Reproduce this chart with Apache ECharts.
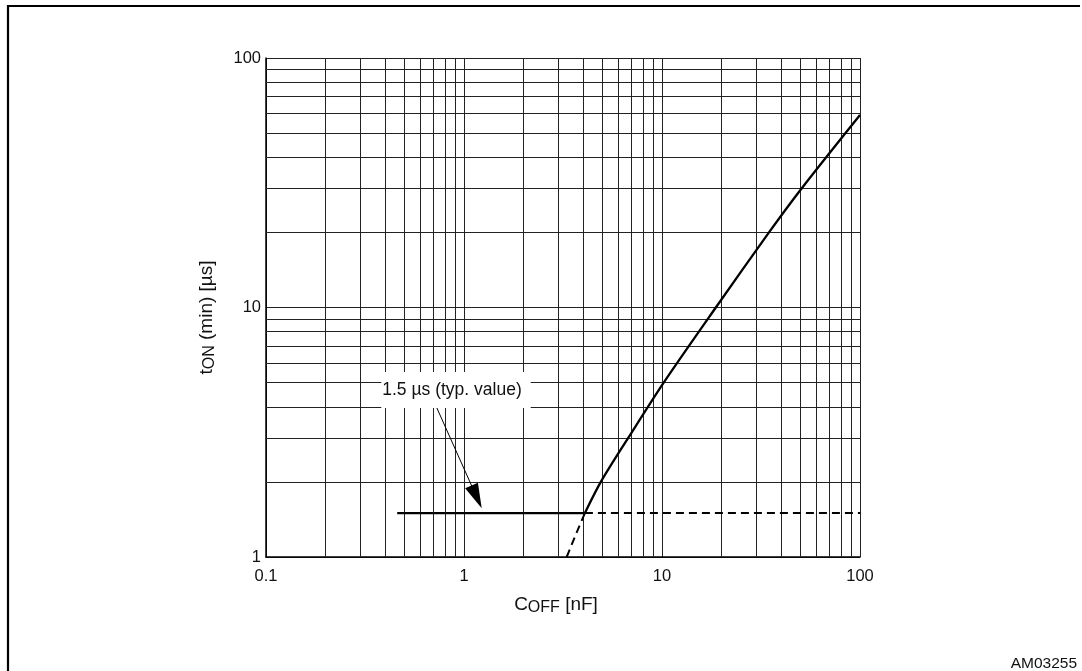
<!DOCTYPE html>
<html><head><meta charset="utf-8">
<script src="https://cdn.jsdelivr.net/npm/echarts@6/dist/echarts.min.js"></script>
<style>html,body{margin:0;padding:0;background:#fff}#c{width:1082px;height:671px}</style>
</head><body><div id="c"></div>
<script>
// ---- data ----
const xTickLabels = ['0.1', '1', '10', '100'];
const yTickLabels = ['1', '10', '100'];
const xMinor = [0.2,0.3,0.4,0.5,0.6,0.7,0.8,0.9, 2,3,4,5,6,7,8,9, 20,30,40,50,60,70,80,90];
const yMinor = [2,3,4,5,6,7,8,9, 20,30,40,50,60,70,80,90];

const flatC = [0.46, 4.08];
const flatT = [1.5, 1.5];
const riseC = [4.08, 4.91, 6.75, 10.2, 18.7, 34.7, 50.7, 100];
const riseT = [1.5, 2, 3, 5, 10, 20, 30, 59.1];
const flatDashC = [4.08, 100];
const flatDashT = [1.5, 1.5];
const riseDashC = [3.3, 3.7, 4.08];
const riseDashT = [1.0, 1.25, 1.5];

const noteText = '1.5 µs (typ. value)';
const noteAt = [0.911, 4.67];
const arrowFrom = [0.715, 4.1];
const arrowTo = [1.158, 1.741];
const figId = 'AM03255';

const pairs = (a, b) => a.map((v, i) => [v, b[i]]);
const FONT = 'Liberation Sans, Arial, Helvetica, sans-serif';

const chart = echarts.init(document.getElementById('c'), null, {renderer: 'canvas'});
const gridColor = '#222';

chart.setOption({
  animation: false,
  backgroundColor: '#fff',
  grid: {left: 266, right: 222, top: 58, bottom: 114, containLabel: false},
  xAxis: {
    type: 'log', logBase: 10, min: 0.1, max: 100, interval: 1,
    axisLine: {onZero: false, lineStyle: {color: '#000', width: 1.5}},
    axisTick: {show: false},
    splitLine: {show: true, lineStyle: {color: gridColor, width: 1}},
    axisLabel: {
      margin: 11, color: '#111', fontSize: 16.5, fontFamily: FONT,
      formatter: v => xTickLabels[Math.round(Math.log10(v)) + 1]
    },
    name: '{m|C}{s|OFF}{m| [nF]}',
    nameLocation: 'middle', nameGap: 37,
    nameTextStyle: {
      padding: [0, 14, 0, 0],
      rich: {
        m: {fontSize: 19, lineHeight: 22, fontFamily: FONT, color: '#111'},
        s: {fontSize: 16, lineHeight: 16, verticalAlign: 'bottom', fontFamily: FONT, color: '#111'}
      }
    }
  },
  yAxis: {
    type: 'log', logBase: 10, min: 1, max: 100, interval: 1,
    axisLine: {onZero: false, lineStyle: {color: '#000', width: 1.5}},
    axisTick: {show: false},
    splitLine: {show: true, lineStyle: {color: gridColor, width: 1}},
    axisLabel: {
      margin: 5, color: '#111', fontSize: 16.5, fontFamily: FONT,
      formatter: v => yTickLabels[Math.round(Math.log10(v))]
    },
    name: '{m|t}{s|ON}{m| (min) [µs]}',
    nameLocation: 'middle', nameGap: 48,
    nameTextStyle: {
      padding: [0, 20, 0, 0],
      rich: {
        m: {fontSize: 19, lineHeight: 22, fontFamily: FONT, color: '#111'},
        s: {fontSize: 16, lineHeight: 16, verticalAlign: 'bottom', fontFamily: FONT, color: '#111'}
      }
    }
  },
  series: [
    {
      name: 'minorGrid', type: 'line', data: [], z: 1, silent: true,
      markLine: {
        silent: true, symbol: 'none', animation: false,
        label: {show: false},
        lineStyle: {color: gridColor, width: 1, type: 'solid'},
        emphasis: {disabled: true},
        data: xMinor.map(v => ({xAxis: v})).concat(yMinor.map(v => ({yAxis: v})))
      }
    },
    {
      name: 'note', type: 'line', data: [], z: 4, silent: true,
      markPoint: {
        symbol: 'rect', symbolSize: 0, silent: true,
        label: {
          show: true, position: 'inside', formatter: noteText,
          fontSize: 17.5, fontFamily: FONT, color: '#111',
          backgroundColor: '#fff', padding: [9, 9, 9, 1], lineHeight: 18
        },
        data: [{coord: noteAt}]
      },
      markLine: {
        silent: true, symbol: ['none', 'triangle'], symbolSize: [14, 25],
        label: {show: false},
        lineStyle: {color: '#000', width: 1, type: 'solid'},
        itemStyle: {color: '#000'},
        data: [[{coord: arrowFrom}, {coord: arrowTo}]]
      }
    },
    {
      name: 'flat', type: 'line', data: pairs(flatC, flatT), z: 5,
      symbol: 'none', lineStyle: {color: '#000', width: 2.3}
    },
    {
      name: 'rise', type: 'line', data: pairs(riseC, riseT), z: 5, smooth: 0.3,
      symbol: 'none', lineStyle: {color: '#000', width: 2.3}
    },
    {
      name: 'flatDash', type: 'line', data: pairs(flatDashC, flatDashT), z: 5,
      symbol: 'none', lineStyle: {color: '#000', width: 2, type: [8, 5]}
    },
    {
      name: 'riseDash', type: 'line', data: pairs(riseDashC, riseDashT), z: 5,
      symbol: 'none', lineStyle: {color: '#000', width: 2, type: [8, 5]}
    }
  ],
  graphic: [
    {type: 'line', shape: {x1: 7, y1: 6, x2: 1080, y2: 6}, style: {stroke: '#000', lineWidth: 2.2}, silent: true},
    {type: 'line', shape: {x1: 8, y1: 5, x2: 8, y2: 671}, style: {stroke: '#000', lineWidth: 2.2}, silent: true},
    {type: 'text', right: 5, top: 656, style: {text: figId, fontSize: 15.5, fontFamily: FONT, fill: '#111'}, silent: true}
  ]
});
</script>
</body></html>
